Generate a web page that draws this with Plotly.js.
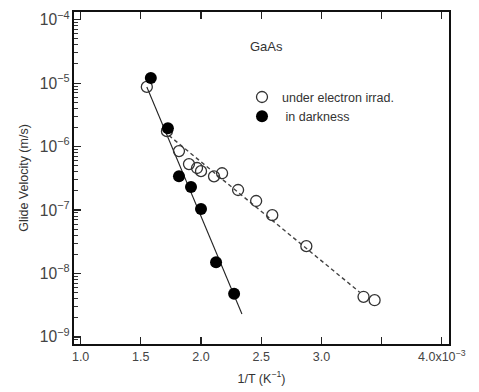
<!DOCTYPE html>
<html>
<head>
<meta charset="utf-8">
<script src="https://cdn.plot.ly/plotly-3.0.1.min.js"></script>
<style>html,body{margin:0;padding:0;background:#fff;}#chart{width:479px;height:392px;}</style>
</head>
<body>
<div id="chart"></div>
<script>
// 1/T in units of 1e-3 K^-1, glide velocity in m/s
const irradX = [1.55, 1.717, 1.817, 1.90, 1.967, 2.00, 2.108, 2.175, 2.308, 2.458, 2.592, 2.875, 3.35, 3.442];
const irradY = [8.7e-6, 1.75e-6, 8.5e-7, 5.3e-7, 4.6e-7, 4.1e-7, 3.4e-7, 3.8e-7, 2.07e-7, 1.39e-7, 8.3e-8, 2.7e-8, 4.3e-9, 3.8e-9];
const darkX = [1.583, 1.725, 1.817, 1.917, 2.00, 2.125, 2.275];
const darkY = [1.2e-5, 1.95e-6, 3.4e-7, 2.3e-7, 1.04e-7, 1.5e-8, 4.8e-9];
const fitDarkX = [1.55, 2.34];
const fitDarkY = [8.7e-6, 2.3e-9];
const fitIrradX = [1.733, 3.317];
const fitIrradY = [1.5e-6, 5.1e-9];
const xTickVals = [1.0, 1.5, 2.0, 2.5, 3.0, 3.5, 4.0];
const xTickText = ["1.0", "1.5", "2.0", "2.5", "3.0", "", "4.0x10<sup>−3</sup>"];
const legendNames = ["under electron irrad.", " in darkness"];

const font = "Liberation Sans, Arial, Helvetica, sans-serif";
const traces = [
  {x: fitDarkX, y: fitDarkY, mode: "lines", line: {color: "#222", width: 1.1}, showlegend: false, hoverinfo: "skip"},
  {x: fitIrradX, y: fitIrradY, mode: "lines", line: {color: "#444", width: 1.4, dash: "4px,3px"}, showlegend: false, hoverinfo: "skip"},
  {x: irradX, y: irradY, mode: "markers", name: legendNames[0],
   marker: {symbol: "circle-open", size: 11, color: "#333", line: {width: 1.3, color: "#333"}}},
  {x: darkX, y: darkY, mode: "markers", name: legendNames[1],
   marker: {symbol: "circle", size: 12, color: "#000"}}
];
const layout = {
  width: 479, height: 392,
  margin: {l: 74, r: 30, t: 12, b: 48},
  paper_bgcolor: "#fff", plot_bgcolor: "#fff",
  font: {family: font, size: 12, color: "#333"},
  showlegend: true,
  legend: {x: 0.448, y: 0.788, xanchor: "left", yanchor: "top", bgcolor: "rgba(0,0,0,0)",
           font: {family: font, size: 12.5, color: "#333"}, tracegroupgap: 0},
  xaxis: {
    range: [0.945, 4.06], tickvals: xTickVals, ticktext: xTickText,
    ticks: "inside", ticklen: 7, tickwidth: 1.2, tickcolor: "#222",
    showline: true, linecolor: "#111", linewidth: 1.8, mirror: "ticks",
    showgrid: false, zeroline: false,
    tickfont: {family: font, size: 12.5, color: "#444"},
    title: {text: "1/T (K<sup>−1</sup>)", font: {family: font, size: 12.5, color: "#333"}, standoff: 11}
  },
  yaxis: {
    type: "log", range: [-9.11, -3.88], dtick: 1, exponentformat: "power",
    ticks: "inside", ticklen: 7, tickwidth: 1.2, tickcolor: "#222",
    minor: {ticks: "inside", ticklen: 3.5, tickwidth: 1, tickcolor: "#333", dtick: "D1", showgrid: false},
    showline: true, linecolor: "#111", linewidth: 1.8, mirror: true,
    showgrid: false, zeroline: false,
    tickfont: {family: font, size: 12.5, color: "#444"},
    title: {text: "Glide Velocity (m/s)", font: {family: font, size: 12.5, color: "#333"}, standoff: 8}
  },
  annotations: [
    {text: "GaAs", xref: "paper", yref: "paper", x: 0.464, y: 0.895, xanchor: "left", yanchor: "middle",
     showarrow: false, font: {family: font, size: 13, color: "#333"}}
  ]
};
Plotly.newPlot("chart", traces, layout, {displayModeBar: false, staticPlot: true});
</script>
</body>
</html>
